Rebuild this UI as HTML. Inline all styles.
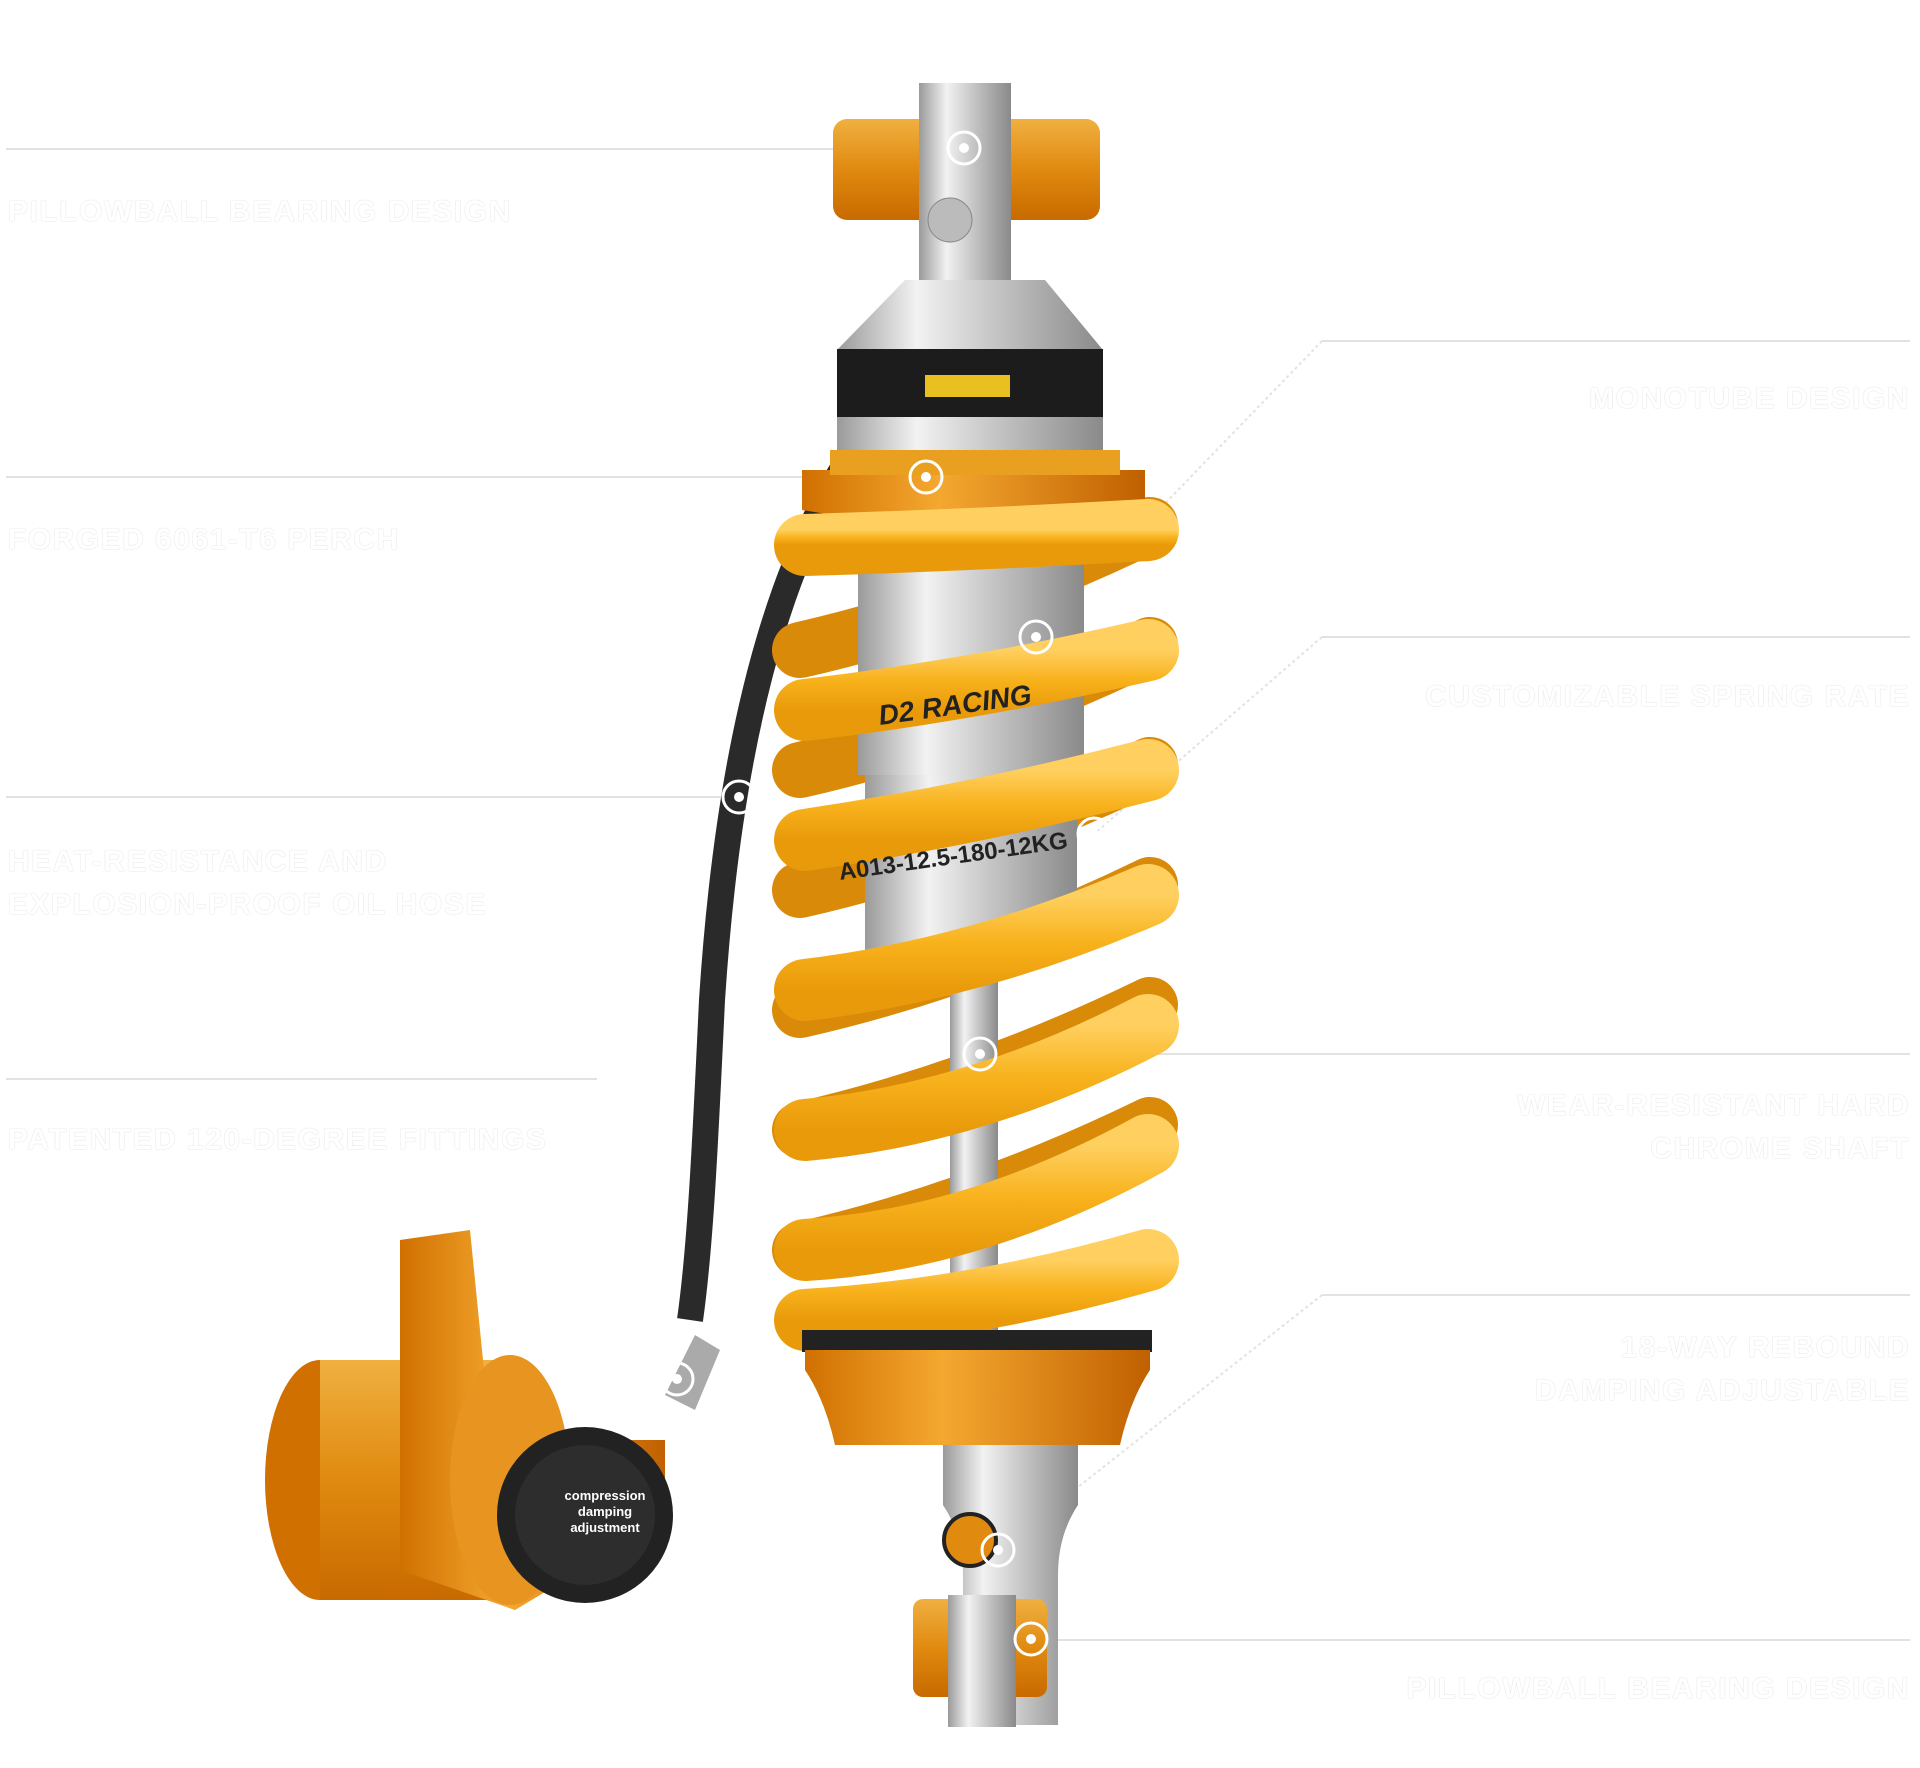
<!DOCTYPE html>
<html><head><meta charset="utf-8"><style>
html,body{margin:0;padding:0;background:#fff}
body{width:1920px;height:1768px;position:relative;overflow:hidden;font-family:"Liberation Sans",sans-serif}
.l{position:absolute;font-size:30px;font-weight:bold;letter-spacing:1.5px;color:#fff;text-shadow:0 0 1px #d8d8d8,0 0 1px #d8d8d8;line-height:43px;white-space:nowrap}
.r{text-align:right;right:10px}
</style></head><body>
<svg width="1920" height="1768" viewBox="0 0 1920 1768" style="position:absolute;left:0;top:0">
<defs>
<linearGradient id="gold" x1="0" y1="0" x2="0" y2="1"><stop offset="0" stop-color="#f0b040"/><stop offset=".5" stop-color="#e08a10"/><stop offset="1" stop-color="#c86a00"/></linearGradient>
<linearGradient id="goldh" x1="0" y1="0" x2="1" y2="0"><stop offset="0" stop-color="#d07000"/><stop offset=".4" stop-color="#f4a830"/><stop offset="1" stop-color="#c06000"/></linearGradient>
<linearGradient id="sil" x1="0" y1="0" x2="1" y2="0"><stop offset="0" stop-color="#9a9a9a"/><stop offset=".3" stop-color="#f2f2f2"/><stop offset=".6" stop-color="#c4c4c4"/><stop offset="1" stop-color="#8a8a8a"/></linearGradient>
<linearGradient id="spr" x1="0" y1="0" x2="0" y2="1"><stop offset="0" stop-color="#ffd060"/><stop offset=".5" stop-color="#f8b21c"/><stop offset="1" stop-color="#e99a0a"/></linearGradient>
</defs>
<g stroke="#e2e2e2" stroke-width="2" fill="none">
<line x1="6" y1="149" x2="833" y2="149"/>
<line x1="6" y1="477" x2="925" y2="477"/>
<line x1="6" y1="797" x2="738" y2="797"/>
<line x1="6" y1="1079" x2="597" y2="1079"/>
<line x1="1322" y1="341" x2="1910" y2="341"/>
<line x1="1322" y1="637" x2="1910" y2="637"/>
<line x1="980" y1="1054" x2="1910" y2="1054"/>
<line x1="1322" y1="1295" x2="1910" y2="1295"/>
<line x1="1030" y1="1640" x2="1910" y2="1640"/>
<line x1="1322" y1="341" x2="1036" y2="637" stroke-dasharray="3 3"/>
<line x1="1322" y1="637" x2="1094" y2="834" stroke-dasharray="3 3"/>
<line x1="1322" y1="1295" x2="998" y2="1550" stroke-dasharray="3 3"/>
</g>
<!-- hose -->
<path d="M845,465 C760,600 725,800 712,1000 C705,1150 700,1250 690,1320" stroke="#2a2a2a" stroke-width="26" fill="none"/>
<path d="M990,245 L850,460" stroke="#aaa" stroke-width="16" stroke-linecap="round"/>
<!-- top eyelet -->
<rect x="833" y="119" width="267" height="101" rx="14" fill="url(#gold)"/>
<path d="M919,83 h92 v230 h-92z" fill="url(#sil)"/>
<circle cx="950" cy="220" r="22" fill="#bbb" stroke="#888"/>
<!-- reservoir head -->
<path d="M905,280 h140 l58,70 h-266z" fill="url(#sil)"/>
<rect x="837" y="349" width="266" height="68" fill="#1c1c1c"/>
<rect x="925" y="375" width="85" height="22" fill="#e8c020"/>
<rect x="837" y="417" width="266" height="40" fill="url(#sil)"/>
<!-- spring back parts -->
<g stroke="#d98a08" stroke-width="56" fill="none" stroke-linecap="round">
<path d="M1150,525 Q975,610 800,650"/><path d="M1150,645 Q975,730 800,770"/><path d="M1150,765 Q975,850 800,890"/><path d="M1150,885 Q975,970 800,1010"/><path d="M1150,1005 Q975,1090 800,1130"/><path d="M1150,1125 Q975,1210 800,1250"/>
</g>
<!-- body -->
<rect x="858" y="515" width="226" height="260" fill="url(#sil)"/>
<rect x="865" y="775" width="212" height="180" fill="url(#sil)"/>
<rect x="950" y="955" width="48" height="380" fill="url(#sil)"/>
<!-- perch -->
<path d="M802,470 h343 v40 q-170,30 -343,0z" fill="url(#goldh)"/>
<rect x="830" y="450" width="290" height="25" fill="#e9a020"/>
<!-- spring fronts -->
<g stroke="url(#spr)" stroke-width="62" fill="none" stroke-linecap="round">
<path d="M805,545 Q975,540 1148,530"/>
<path d="M805,710 Q975,690 1148,650"/>
<path d="M805,840 Q975,815 1148,770"/>
<path d="M805,990 Q975,970 1148,895"/>
<path d="M805,1130 Q975,1115 1148,1025"/>
<path d="M805,1250 Q975,1240 1148,1145"/>
<path d="M805,1320 Q975,1310 1148,1260"/>
</g>
<text x="880" y="725" font-family="Liberation Sans" font-weight="bold" font-size="28" fill="#222" font-style="italic" transform="rotate(-8 880 725)">D2 RACING</text>
<text x="840" y="880" font-family="Liberation Sans" font-weight="bold" font-size="24" fill="#222" transform="rotate(-8 840 880)">A013-12.5-180-12KG</text>
<!-- bottom cup -->
<rect x="802" y="1330" width="350" height="22" fill="#222"/>
<path d="M805,1350 h345 v20 q-20,30 -30,75 h-285 q-10,-45 -30,-75z" fill="url(#goldh)"/>
<!-- bottom clevis -->
<path d="M943,1445 h135 v60 q-20,30 -20,70 v150 h-95 v-150 q0,-40 -20,-70z" fill="url(#sil)"/>
<circle cx="970" cy="1540" r="26" fill="#e08a10" stroke="#222" stroke-width="4"/>
<rect x="913" y="1599" width="134" height="98" rx="10" fill="url(#gold)"/>
<rect x="948" y="1595" width="68" height="132" fill="url(#sil)"/>
<!-- remote reservoir -->
<ellipse cx="320" cy="1480" rx="55" ry="120" fill="#d07000"/>
<rect x="320" y="1360" width="190" height="240" fill="url(#gold)"/>
<path d="M400,1240 l70,-10 l15,150 l80,60 l100,0 l0,80 l-150,90 l-115,-40z" fill="url(#goldh)"/>
<ellipse cx="510" cy="1480" rx="60" ry="125" fill="#e89420"/>
<circle cx="585" cy="1515" r="88" fill="#222"/>
<circle cx="585" cy="1515" r="70" fill="#2d2d2d"/>
<text x="605" y="1500" text-anchor="middle" font-size="13" font-weight="bold" fill="#fff" font-family="Liberation Sans">compression</text>
<text x="605" y="1516" text-anchor="middle" font-size="13" font-weight="bold" fill="#fff" font-family="Liberation Sans">damping</text>
<text x="605" y="1532" text-anchor="middle" font-size="13" font-weight="bold" fill="#fff" font-family="Liberation Sans">adjustment</text>
<path d="M665,1395 l30,-60 l25,15 l-25,60z" fill="#aaa"/>
<!-- markers -->
<g fill="none" stroke="#fff" stroke-width="3">
<circle cx="964" cy="148" r="16"/><circle cx="926" cy="477" r="16"/><circle cx="739" cy="797" r="16"/><circle cx="1036" cy="637" r="16"/><circle cx="1094" cy="834" r="16"/><circle cx="980" cy="1054" r="16"/><circle cx="677" cy="1379" r="16"/><circle cx="998" cy="1550" r="16"/><circle cx="1031" cy="1639" r="16"/>
</g>
<g fill="#fff">
<circle cx="964" cy="148" r="5"/><circle cx="926" cy="477" r="5"/><circle cx="739" cy="797" r="5"/><circle cx="1036" cy="637" r="5"/><circle cx="1094" cy="834" r="5"/><circle cx="980" cy="1054" r="5"/><circle cx="677" cy="1379" r="5"/><circle cx="998" cy="1550" r="5"/><circle cx="1031" cy="1639" r="5"/>
</g>
</svg>
<div class="l" style="left:8px;top:190px">PILLOWBALL BEARING DESIGN</div>
<div class="l" style="left:8px;top:518px">FORGED 6061-T6 PERCH</div>
<div class="l" style="left:8px;top:840px">HEAT-RESISTANCE AND<br>EXPLOSION-PROOF OIL HOSE</div>
<div class="l" style="left:8px;top:1118px">PATENTED 120-DEGREE FITTINGS</div>
<div class="l r" style="top:377px">MONOTUBE DESIGN</div>
<div class="l r" style="top:675px">CUSTOMIZABLE SPRING RATE</div>
<div class="l r" style="top:1084px">WEAR-RESISTANT HARD<br>CHROME SHAFT</div>
<div class="l r" style="top:1326px">18-WAY REBOUND<br>DAMPING ADJUSTABLE</div>
<div class="l r" style="top:1667px">PILLOWBALL BEARING DESIGN</div>
</body></html>
